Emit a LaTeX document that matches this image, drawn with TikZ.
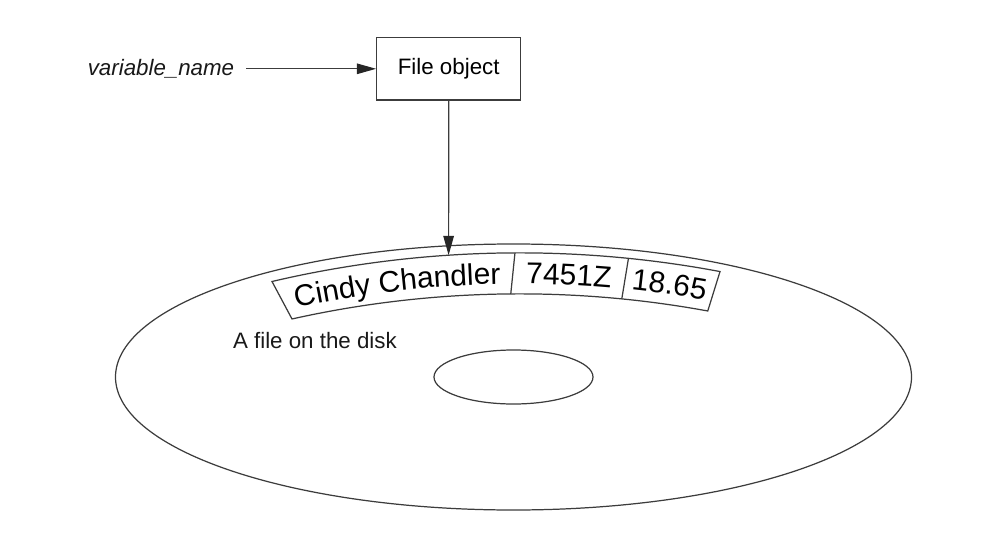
\documentclass[tikz,border=0pt]{standalone}
\usepackage{fontspec}
\setmainfont{Liberation Sans}
\usepackage{xcolor}
\usepackage{tikz}
\usetikzlibrary{arrows.meta, decorations.text}
\usetikzlibrary{positioning}
\definecolor{inkgray}{HTML}{3C3C3C}
\newcommand{\basefont}{\fontsize{12.7}{15}\selectfont}
\newcommand{\recfont}{\fontsize{17}{20}\selectfont}
\tikzstyle{objbox} = [rectangle, minimum width=2.88cm, minimum height=1.246cm, text centered, draw=inkgray, line width=0.7pt]
\tikzstyle{plaintext} = [inner sep=0pt, text=black!90]
\tikzstyle{arrow} = [line width=0.7pt, draw=inkgray, -{Triangle[length=11pt, width=6pt, color=black!85, fill=black!85]}]
\tikzstyle{disk} = [line width=0.7pt, draw=inkgray]
\tikzstyle{rectext} = [decorate, text=black!90]

\begin{document}
\begin{tikzpicture}[x=0.02cm, y=0.02cm, font=\basefont, node distance=2.6cm]
  \useasboundingbox (0,0) rectangle (990,552);

  % Variable and file object
  \node (fileobj) [objbox] at (448.7,483.2) {File object};
  \node (varname) [plaintext, inner xsep=6.6pt, left=of fileobj] {\itshape variable\_name};

  % Disk
  \coordinate (hub) at (513.5,175);
  \draw [disk] (hub) ellipse [x radius=398, y radius=133];
  \draw [disk] (hub) ellipse [x radius=79.5, y radius=27];
  \node (disklabel) [plaintext, anchor=base west] at (232.7,203.7) {A file on the disk};

  % Record on the track
  \coordinate (arcctr) at (519.5,-784.8);
  \draw [disk, fill=white] ([shift={(103.2:1084)}]arcctr) arc [start angle=103.2, end angle=79.34, radius=1084]
    -- ([shift={(79.6:1043)}]arcctr) arc [start angle=79.6, end angle=102.6, radius=1043] -- cycle;
  \draw [disk] ([shift={(90.24:1084)}]arcctr) -- ([shift={(90.48:1043)}]arcctr);
  \draw [disk] ([shift={(84.23:1084)}]arcctr) -- ([shift={(84.37:1043)}]arcctr);
  \path [rectext, decoration={text along path, text align=center, text={|\recfont|Cindy Chandler}}]
    ([shift={(102.9:1053)}]arcctr) arc [start angle=102.9, end angle=90.36, radius=1053];
  \path [rectext, decoration={text along path, text align=center, text={|\recfont|7451Z}}]
    ([shift={(90.36:1053)}]arcctr) arc [start angle=90.36, end angle=84.3, radius=1053];
  \path [rectext, decoration={text along path, text align=center, text={|\recfont|18.65}}]
    ([shift={(84.3:1053)}]arcctr) arc [start angle=84.3, end angle=79.47, radius=1053];
  \path ([shift={(93.75:1084)}]arcctr) coordinate (rectop);

  % Arrows
  \draw [arrow] (varname) -- (fileobj);
  \draw [arrow] (fileobj) -- (rectop);
\end{tikzpicture}
\end{document}
